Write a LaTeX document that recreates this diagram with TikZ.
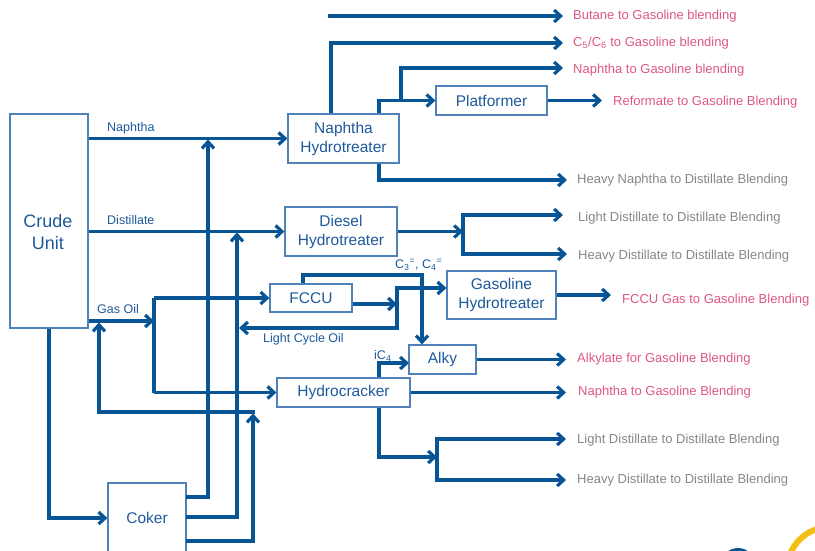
\documentclass[tikz,border=0pt]{standalone}
\usepackage{fontspec}
\setmainfont{Liberation Sans}
\usetikzlibrary{arrows.meta}
\definecolor{linec}{RGB}{8,85,150}
\definecolor{boxc}{RGB}{80,130,185}
\definecolor{txtc}{RGB}{30,90,155}
\definecolor{pinkc}{RGB}{222,88,130}
\definecolor{grayc}{RGB}{135,135,135}
\definecolor{yellowc}{RGB}{245,190,20}
\tikzset{
  box/.style={draw=boxc, line width=1.2pt, text=txtc, align=center, inner sep=0pt,
    font=\fontsize{15.5}{19}\selectfont},
  bigtxt/.style={text=txtc, align=center, inner sep=0pt, font=\fontsize{18}{22}\selectfont},
  flow/.style={draw=linec, line width=3.2pt, -{Straight Barb[length=6.5pt,width=12pt]}},
  pipe/.style={draw=linec, line width=3.2pt},
  lab/.style={text=txtc, anchor=west, inner sep=0pt, font=\fontsize{12.5}{15}\selectfont},
  outp/.style={text=pinkc, anchor=west, inner sep=0pt, font=\fontsize{13}{15}\selectfont},
  outg/.style={text=grayc, anchor=west, inner sep=0pt, font=\fontsize{13}{15}\selectfont}
}
\begin{document}
\begin{tikzpicture}[x=1pt,y=-1pt]
\clip (0,0) rectangle (815,550);
\fill[white] (0,0) rectangle (815,550);

% boxes
\node[box, minimum width=78pt, minimum height=214pt] (crude) at (49,221) {};
\node[bigtxt] (crudetxt) at (48,232) {Crude\\Unit};
\node[box, minimum width=111pt, minimum height=49pt] (nht) at (343.5,138.5) {Naphtha\\Hydrotreater};
\node[box, minimum width=111pt, minimum height=29pt] (plat) at (491.5,100.5) {Platformer};
\node[box, minimum width=112pt, minimum height=49pt] (dht) at (341,231.5) {Diesel\\Hydrotreater};
\node[box, minimum width=82pt, minimum height=28pt] (fccu) at (311,298) {FCCU};
\node[box, minimum width=109pt, minimum height=48pt] (ght) at (501.5,295) {Gasoline\\Hydrotreater};
\node[box, minimum width=67pt, minimum height=29pt] (alky) at (442.5,359.5) {Alky};
\node[box, minimum width=133pt, minimum height=29pt] (hc) at (343.5,392.5) {Hydrocracker};
\node[box, minimum width=78pt, minimum height=70pt] (coker) at (147,518) {Coker};

% stream labels
\node[lab] (lnaph) at (107,128) {Naphtha};
\node[lab] (ldist) at (107,220) {Distillate};
\node[lab] (lgo) at (97,309) {Gas Oil};
\node[lab] (llco) at (263,339) {Light Cycle Oil};
\node[lab] (lc34) at (395,265) {C\textsubscript{3}\textsuperscript{=}, C\textsubscript{4}\textsuperscript{=}};
\node[lab] (lic4) at (374,356) {iC\textsubscript{4}};

% product labels
\node[outp] (tbut) at (573,16) {Butane to Gasoline blending};
\node[outp] (tc56) at (573,43) {C\textsubscript{5}/C\textsubscript{6} to Gasoline blending};
\node[outp] (tnap1) at (573,70) {Naphtha to Gasoline blending};
\node[outp] (tref) at (613,102) {Reformate to Gasoline Blending};
\node[outg] (thn) at (577,180) {Heavy Naphtha to Distillate Blending};
\node[outg] (tld1) at (578,218) {Light Distillate to Distillate Blending};
\node[outg] (thd1) at (578,256) {Heavy Distillate to Distillate Blending};
\node[outp] (tfg) at (622,300) {FCCU Gas to Gasoline Blending};
\node[outp] (talk) at (577,359) {Alkylate for Gasoline Blending};
\node[outp] (tnap2) at (578,392) {Naphtha to Gasoline Blending};
\node[outg] (tld2) at (577,440) {Light Distillate to Distillate Blending};
\node[outg] (thd2) at (577,480) {Heavy Distillate to Distillate Blending};

% guide coordinates
\coordinate (xa) at (331,0);
\coordinate (xb) at (379,0);
\coordinate (xe) at (566,0);
\coordinate (xfg) at (611,0);
\coordinate (b0) at (328,16);
\coordinate (eBut) at (563,16);
\coordinate (eC56) at (563,43);
\coordinate (jn) at (401,100.5);
\coordinate (eNap1) at (563,68);
\coordinate (eRef) at (602,100.5);
\coordinate (eHN) at (567,180);
\coordinate (go) at (154,321);
\coordinate (k1) at (186,497);
\coordinate (k2) at (186,517);
\coordinate (k3) at (186,541);
\coordinate (j1) at (208,139.5);
\coordinate (j2) at (237,232.5);
\coordinate (j3) at (253,413.5);
\coordinate (h1) at (254.6,412);
\coordinate (j4) at (99,322.5);
\coordinate (jd) at (463,231.5);
\coordinate (eLD1) at (563,215);
\coordinate (eHD1) at (567,254);
\coordinate (fc1) at (303,275);
\coordinate (fc2) at (422,275);
\coordinate (jg) at (397,304);
\coordinate (gh) at (447,288);
\coordinate (lc) at (239,328);
\coordinate (a1) at (409,363);
\coordinate (jh) at (437,457);
\coordinate (eLD2) at (566,439);
\coordinate (eHD2) at (566,480);

% crude unit outputs
\draw[flow] (crude.east |- nht.west) -- (nht.west);
\draw[flow] (crude.east |- dht.west) -- (dht.west);
\draw[flow] (crude.east |- go) -- (go);
\draw[pipe] (go |- fccu.west) -- (go |- hc.west);
\draw[flow] (go |- fccu.west) -- (fccu.west);
\draw[flow] (go |- hc.west) -- (hc.west);
\draw[flow] (crude.south) |- (coker.west);

% coker outputs
\draw[flow] (k1) -| (j1);
\draw[flow] (k2) -| (j2);
\draw[flow] (k3) -| (j3);
\draw[flow] (h1) -| (j4);

% naphtha hydrotreater
\draw[flow] (b0) -- (eBut);
\draw[flow] (nht.north -| xa) |- (eC56);
\draw[flow] (nht.north -| xb) |- (plat.west);
\draw[flow] (jn) |- (eNap1);
\draw[flow] (plat.east) -- (eRef);
\draw[flow] (nht.south -| xb) |- (eHN);

% diesel hydrotreater
\draw[flow] (dht.east) -- (jd);
\draw[flow] (jd) |- (eLD1);
\draw[flow] (jd) |- (eHD1);

% FCCU
\draw[flow] (fccu.north -| fc1) -- (fc1) -- (fc2) -- (alky.north -| fc2);
\draw[flow] (fccu.east |- jg) -- (jg);
\draw[flow] (jg) |- (ght.west |- gh);
\draw[flow] (jg) |- (lc);
\draw[flow] (ght.east) -- (ght.east -| xfg);

% alky / hydrocracker
\draw[flow] (hc.north -| xb) |- (a1);
\draw[flow] (alky.east) -- (alky.east -| xe);
\draw[flow] (hc.east) -- (hc.east -| xe);
\draw[flow] (hc.south -| xb) |- (jh);
\draw[flow] (jh) |- (eLD2);
\draw[flow] (jh) |- (eHD2);

% partial logo in corner
\draw[yellowc, line width=6pt] (830,570) circle (43pt);
\fill[linec] (738,565) circle (17pt);
\end{tikzpicture}
\end{document}
